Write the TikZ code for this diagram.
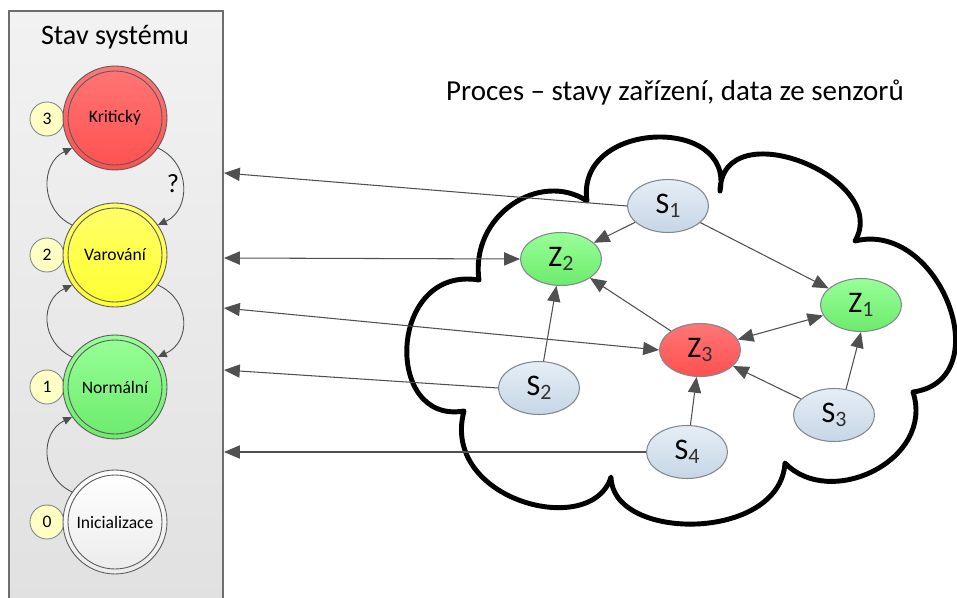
\documentclass[tikz,border=0pt]{standalone}
\usepackage{fontspec}
\setmainfont{Carlito}
\usetikzlibrary{arrows.meta,shapes.geometric}
\definecolor{panelTop}{HTML}{F2F2F2}
\definecolor{panelBot}{HTML}{E0E0E0}
\definecolor{panelLine}{HTML}{6E6E6E}
\definecolor{redTop}{HTML}{FF7676}
\definecolor{redBot}{HTML}{FF5050}
\definecolor{yelTop}{HTML}{FFFF6A}
\definecolor{yelBot}{HTML}{FFFF30}
\definecolor{grnTop}{HTML}{98FF98}
\definecolor{grnBot}{HTML}{6CEB6C}
\definecolor{whtTop}{HTML}{FFFFFF}
\definecolor{whtBot}{HTML}{EBEBEB}
\definecolor{numFill}{HTML}{FFFFC4}
\definecolor{ringLine}{HTML}{5A5A5A}
\definecolor{sTop}{HTML}{E6EEF6}
\definecolor{sBot}{HTML}{C6D6E6}
\definecolor{nodeLine}{HTML}{808890}
\definecolor{arrowGray}{HTML}{505050}
\definecolor{subGray}{HTML}{303030}
\newcommand\sublab[2]{#1\raisebox{-2.6pt}{\fontsize{12.5}{12.5}\selectfont\color{subGray}#2}}
\begin{document}
\begin{tikzpicture}[x=0.02cm,y=-0.02cm,
  statebox/.style={circle, minimum size=2.08cm, inner sep=0pt, draw=ringLine, line width=0.5pt, font=\fontsize{10}{12}\selectfont},
  numbox/.style={circle, minimum size=0.68cm, inner sep=0pt, draw=nodeLine, line width=0.5pt, fill=numFill, font=\fontsize{10}{12}\selectfont},
  ellbox/.style={ellipse, minimum width=1.62cm, minimum height=1.06cm, inner sep=0pt, draw=nodeLine, line width=0.6pt, font=\fontsize{17}{17}\selectfont},
  sbox/.style={ellbox, top color=sTop, bottom color=sBot},
  zgbox/.style={ellbox, top color=grnTop, bottom color=grnBot},
  zrbox/.style={ellbox, top color=redTop, bottom color=redBot},
  conn/.style={draw=arrowGray, line width=0.6pt, -{Triangle[length=9pt,width=7.5pt]}},
  connboth/.style={draw=arrowGray, line width=0.6pt, {Triangle[length=9pt,width=7.5pt]}-{Triangle[length=9pt,width=7.5pt]}},
  sarc/.style={draw=arrowGray, line width=0.5pt, -{Triangle[length=5pt,width=4.5pt]}},
]
\useasboundingbox (0,0) rectangle (957,598);
\fill[white] (0,0) rectangle (957,598);

% left panel
\path[top color=panelTop, bottom color=panelBot, draw=panelLine, line width=0.8pt] (9,11) rectangle (223,640);
\node[anchor=base, font=\fontsize{16}{18}\selectfont] (paneltitle) at (115,45) {Stav systému};

% number circles (behind states)
\node[numbox] (n3) at (47,119) {3};
\node[numbox] (n2) at (47,255) {2};
\node[numbox] (n1) at (47,387) {1};
\node[numbox] (n0) at (47,522) {0};

% state circles
\node[statebox, top color=redTop, bottom color=redBot] (K) at (115,118) {Kritický};
\node[statebox, top color=yelTop, bottom color=yelBot] (V) at (115,255) {Varování};
\node[statebox, top color=grnTop, bottom color=grnBot] (N) at (115,387) {Normální};
\node[statebox, top color=whtTop, bottom color=whtBot] (I) at (115,522) {Inicializace};
\foreach \s in {K,V,N,I} \draw[ringLine, line width=0.5pt] (\s.center) circle[radius=0.94cm];

% state transitions
\draw[sarc] (V.145) .. controls (40,210) and (40,163) .. (K.215);
\draw[sarc] (K.325) .. controls (191,163) and (191,210) .. (V.35);
\node[font=\fontsize{15}{15}\selectfont] (q) at (173,184) {?};
\draw[sarc] (N.145) .. controls (40,342) and (40,300) .. (V.215);
\draw[sarc] (V.325) .. controls (191,300) and (191,342) .. (N.35);
\draw[sarc] (I.145) .. controls (40,477) and (40,432) .. (N.215);

% cloud
\draw[line width=2.8pt, fill=white, line join=round]
  (587,201) .. controls (575,120) and (735,115) .. (720,191)
  .. controls (722,110) and (892,178) .. (855,241)
  .. controls (940,220) and (1000,380) .. (913,392)
  .. controls (935,460) and (830,510) .. (785,463)
  .. controls (780,542) and (612,542) .. (611,477)
  .. controls (592,540) and (440,500) .. (464,411)
  .. controls (383,425) and (388,265) .. (479,280)
  .. controls (470,215) and (540,170) .. (587,201) -- cycle;

\node[anchor=base, font=\fontsize{16.5}{18}\selectfont] (proctitle) at (675,101) {Proces -- stavy zařízení, data ze senzorů};

% process nodes
\node[sbox] (S1) at (668,206) {\sublab{S}{1}};
\node[zgbox] (Z2) at (561,259) {\sublab{Z}{2}};
\node[zgbox] (Z1) at (861,305) {\sublab{Z}{1}};
\node[zrbox] (Z3) at (700,350) {\sublab{Z}{3}};
\node[sbox] (S2) at (539,388) {\sublab{S}{2}};
\node[sbox] (S3) at (834,415) {\sublab{S}{3}};
\node[sbox] (S4) at (687,452) {\sublab{S}{4}};

% panel edge points
\coordinate (p1) at (224,173);
\coordinate (p2) at (224,258);
\coordinate (p3) at (224,308);
\coordinate (p4) at (224,370);
\coordinate (p5) at (224,452);

% connectors to panel
\draw[conn] (S1.west) -- (p1);
\draw[connboth] (p2) -- (Z2.west);
\draw[connboth] (p3) -- (Z3.west);
\draw[conn] (S2.west) -- (p4);
\draw[conn] (S4.west) -- (p5);

% connectors inside cloud
\draw[conn] (S1) -- (Z2);
\draw[conn] (S1) -- (Z1);
\draw[conn] (Z3) -- (Z2);
\draw[connboth] (Z3) -- (Z1);
\draw[conn] (S2) -- (Z2);
\draw[conn] (S3) -- (Z3);
\draw[conn] (S3.65) -- (Z1.south);
\draw[conn] (S4) -- (Z3);
\end{tikzpicture}
\end{document}
